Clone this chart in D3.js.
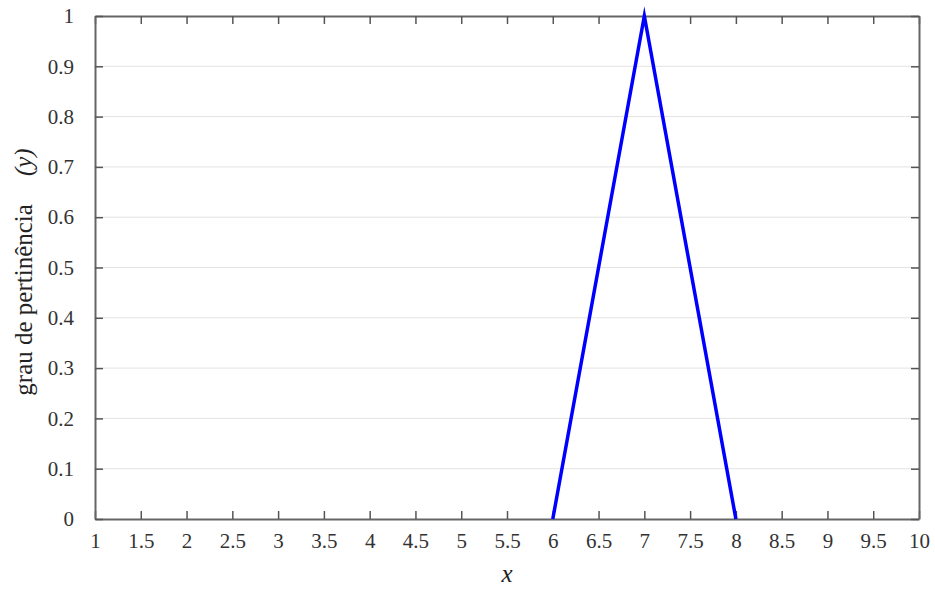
<!DOCTYPE html>
<html>
<head>
<meta charset="utf-8">
<script src="https://cdn.jsdelivr.net/npm/d3@7"></script>
<style>
  body { margin: 0; background: #fff; }
  svg text { font-family: "Liberation Serif", "DejaVu Serif", serif; }
</style>
</head>
<body>
<div id="chart"></div>
<script>
// data
const xs = [6, 7, 8];
const ys = [0, 1, 0];
const xTicks = [1, 1.5, 2, 2.5, 3, 3.5, 4, 4.5, 5, 5.5, 6, 6.5, 7, 7.5, 8, 8.5, 9, 9.5, 10];
const yTicks = [0, 0.1, 0.2, 0.3, 0.4, 0.5, 0.6, 0.7, 0.8, 0.9, 1];

const W = 935, H = 589;
const margin = {left: 95, right: 16, top: 16, bottom: 70};
const width = W - margin.left - margin.right;
const height = H - margin.top - margin.bottom;

const svg = d3.select("#chart").append("svg")
  .attr("width", W).attr("height", H);
const g = svg.append("g")
  .attr("transform", "translate(" + margin.left + "," + margin.top + ")");

const x = d3.scaleLinear().domain([1, 10]).range([0, width]);
const y = d3.scaleLinear().domain([0, 1]).range([height, 0]);

// grid
g.selectAll(".grid").data(yTicks.slice(1, -1)).enter().append("line")
  .attr("x1", 0).attr("x2", width)
  .attr("y1", d => y(d)).attr("y2", d => y(d))
  .attr("stroke", "#e3e3e3").attr("stroke-width", 1);

const fmt = d => String(d);
const tickLen = 8;

// bottom axis
const xa = g.append("g").attr("transform", "translate(0," + height + ")")
  .call(d3.axisBottom(x).tickValues(xTicks).tickFormat(fmt).tickSizeInner(-tickLen).tickSizeOuter(0).tickPadding(14));
// top axis
const xt = g.append("g")
  .call(d3.axisTop(x).tickValues(xTicks).tickFormat("").tickSizeInner(-tickLen).tickSizeOuter(0));
// left axis
const ya = g.append("g")
  .call(d3.axisLeft(y).tickValues(yTicks).tickFormat(fmt).tickSizeInner(-tickLen).tickSizeOuter(0).tickPadding(21));
// right axis
const yr = g.append("g").attr("transform", "translate(" + width + ",0)")
  .call(d3.axisRight(y).tickValues(yTicks).tickFormat("").tickSizeInner(-tickLen).tickSizeOuter(0));

[xa, xt, ya, yr].forEach(a => {
  a.select(".domain").attr("stroke", "#666").attr("stroke-width", 2);
  a.selectAll(".tick line").attr("stroke", "#555").attr("stroke-width", 1.5);
  a.selectAll("text").attr("fill", "#333").style("font-size", "21px")
    .style("font-family", "'Liberation Serif', serif");
});

// line, on top of the frame
g.append("path")
  .datum(xs.map((d, i) => [d, ys[i]]))
  .attr("fill", "none")
  .attr("stroke", "#0000ff")
  .attr("stroke-width", 3.5)
  .attr("stroke-linejoin", "miter")
  .attr("stroke-miterlimit", 10)
  .attr("d", d3.line().x(d => x(d[0])).y(d => y(d[1])));

// axis labels
svg.append("text")
  .attr("x", margin.left + x(5.5)).attr("y", 582)
  .attr("text-anchor", "middle")
  .style("font-size", "25px").style("font-style", "italic")
  .attr("fill", "#222")
  .text("x");

const yl = svg.append("text")
  .attr("transform", "translate(32,272) rotate(-90)")
  .attr("text-anchor", "middle")
  .style("font-size", "25px")
  .attr("fill", "#222");
yl.append("tspan").text("grau de pertinência");
yl.append("tspan").attr("dx", 28).style("font-style", "italic").text("(y)");
</script>
</body>
</html>
